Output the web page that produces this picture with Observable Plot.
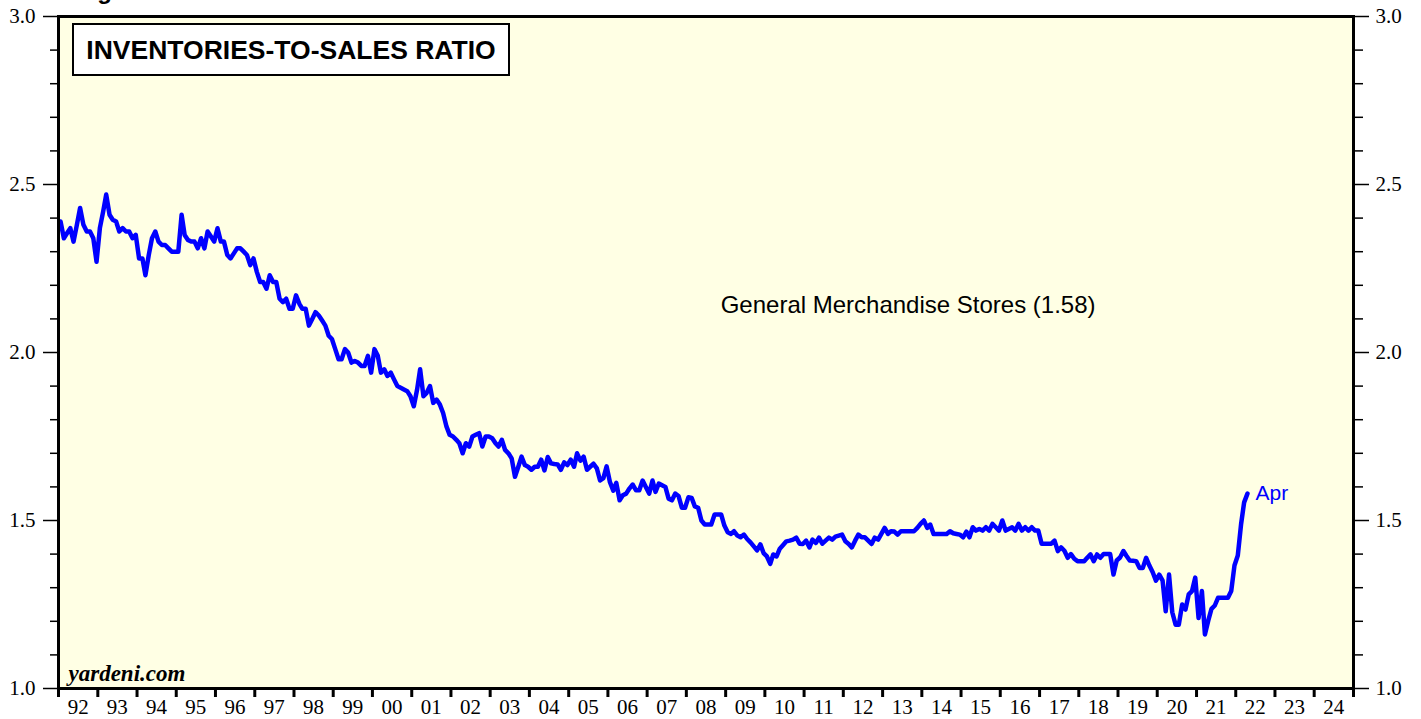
<!DOCTYPE html>
<html>
<head>
<meta charset="utf-8">
<script src="https://cdn.jsdelivr.net/npm/d3@7"></script>
<script src="https://cdn.jsdelivr.net/npm/@observablehq/plot@0.6"></script>
<style>
  html, body { margin: 0; padding: 0; background: #ffffff; }
  #wrap { position: relative; width: 1421px; height: 719px; overflow: hidden; }
  #fig { position: absolute; left: 76px; top: -21px; font: bold 24px "Liberation Sans", Arial, sans-serif; line-height: 24px; color: #000; white-space: nowrap; }
  #titlebox { position: absolute; left: 72px; top: 23px; width: 434px; height: 49px; border: 2px solid #000; background: #ffffff;
              font: bold 26.5px "Liberation Sans", Arial, sans-serif; line-height: 50px; text-align: center; color: #000; white-space: nowrap; }
  svg { display: block; }
</style>
</head>
<body>
<div id="wrap">
  <div id="chart"></div>
  <div id="fig">Figure 3.</div>
  <div id="titlebox">INVENTORIES-TO-SALES RATIO</div>
</div>
<script>
// Monthly inventories-to-sales ratio, General Merchandise Stores, Jan 1992 - Apr 2022
const y1992 = [2.39, 2.34, 2.355, 2.37, 2.33, 2.38, 2.43, 2.38, 2.36, 2.36, 2.34, 2.27];
const y1993 = [2.37, 2.42, 2.47, 2.41, 2.395, 2.39, 2.36, 2.37, 2.36, 2.36, 2.34, 2.35];
const y1994 = [2.28, 2.28, 2.23, 2.29, 2.34, 2.36, 2.33, 2.32, 2.32, 2.31, 2.30, 2.30];
const y1995 = [2.30, 2.41, 2.35, 2.335, 2.33, 2.33, 2.31, 2.34, 2.31, 2.36, 2.345, 2.33];
const y1996 = [2.37, 2.33, 2.33, 2.29, 2.28, 2.295, 2.31, 2.31, 2.30, 2.29, 2.26, 2.28];
const y1997 = [2.24, 2.21, 2.21, 2.19, 2.23, 2.21, 2.21, 2.16, 2.15, 2.16, 2.13, 2.13];
const y1998 = [2.17, 2.145, 2.13, 2.13, 2.08, 2.10, 2.12, 2.11, 2.095, 2.08, 2.05, 2.04];
const y1999 = [2.01, 1.98, 1.98, 2.01, 2.00, 1.97, 1.975, 1.97, 1.96, 1.96, 1.99, 1.94];
const y2000 = [2.01, 1.99, 1.94, 1.95, 1.93, 1.94, 1.92, 1.90, 1.895, 1.89, 1.885, 1.87];
const y2001 = [1.84, 1.89, 1.95, 1.87, 1.88, 1.90, 1.85, 1.86, 1.845, 1.82, 1.78, 1.755];
const y2002 = [1.75, 1.74, 1.73, 1.70, 1.73, 1.72, 1.75, 1.755, 1.76, 1.72, 1.75, 1.75];
const y2003 = [1.745, 1.73, 1.72, 1.74, 1.71, 1.70, 1.685, 1.63, 1.66, 1.69, 1.665, 1.66];
const y2004 = [1.651, 1.66, 1.66, 1.681, 1.649, 1.689, 1.67, 1.668, 1.667, 1.651, 1.673, 1.665];
const y2005 = [1.681, 1.66, 1.70, 1.678, 1.69, 1.651, 1.66, 1.669, 1.655, 1.619, 1.626, 1.661];
const y2006 = [1.614, 1.589, 1.612, 1.56, 1.575, 1.58, 1.595, 1.607, 1.59, 1.59, 1.619, 1.60];
const y2007 = [1.58, 1.619, 1.585, 1.61, 1.605, 1.60, 1.565, 1.56, 1.58, 1.573, 1.538, 1.538];
const y2008 = [1.569, 1.567, 1.542, 1.538, 1.50, 1.488, 1.488, 1.488, 1.518, 1.518, 1.518, 1.485];
const y2009 = [1.465, 1.46, 1.468, 1.455, 1.45, 1.458, 1.445, 1.435, 1.423, 1.411, 1.429, 1.403];
const y2010 = [1.393, 1.371, 1.399, 1.393, 1.416, 1.427, 1.438, 1.44, 1.443, 1.449, 1.431, 1.43];
const y2011 = [1.44, 1.42, 1.443, 1.433, 1.449, 1.431, 1.44, 1.449, 1.443, 1.452, 1.455, 1.458];
const y2012 = [1.438, 1.43, 1.42, 1.44, 1.458, 1.45, 1.45, 1.44, 1.43, 1.449, 1.443, 1.46];
const y2013 = [1.478, 1.46, 1.468, 1.467, 1.458, 1.468, 1.468, 1.468, 1.468, 1.468, 1.478, 1.49];
const y2014 = [1.50, 1.478, 1.488, 1.46, 1.46, 1.46, 1.46, 1.46, 1.468, 1.462, 1.46, 1.458];
const y2015 = [1.45, 1.467, 1.45, 1.48, 1.47, 1.475, 1.47, 1.48, 1.47, 1.49, 1.48, 1.47];
const y2016 = [1.50, 1.47, 1.475, 1.48, 1.47, 1.49, 1.47, 1.48, 1.47, 1.48, 1.47, 1.47];
const y2017 = [1.431, 1.431, 1.431, 1.431, 1.44, 1.409, 1.42, 1.41, 1.389, 1.40, 1.386, 1.379];
const y2018 = [1.379, 1.379, 1.389, 1.399, 1.379, 1.399, 1.389, 1.40, 1.40, 1.40, 1.339, 1.381];
const y2019 = [1.39, 1.409, 1.395, 1.381, 1.38, 1.379, 1.359, 1.359, 1.389, 1.366, 1.346, 1.321];
const y2020 = [1.339, 1.321, 1.23, 1.339, 1.227, 1.19, 1.19, 1.25, 1.235, 1.28, 1.29, 1.33];
const y2021 = [1.21, 1.29, 1.161, 1.202, 1.237, 1.247, 1.27, 1.27, 1.27, 1.27, 1.29, 1.366];
const y2022 = [1.396, 1.49, 1.554, 1.58];

const startYear = 1992;
const xTickLabels = ["92","93","94","95","96","97","98","99","00","01","02","03","04","05","06","07",
                     "08","09","10","11","12","13","14","15","16","17","18","19","20","21","22","23","24"];
const yMajorTicks = [1.0, 1.5, 2.0, 2.5, 3.0];
const yMinorTicks = [1.1, 1.2, 1.3, 1.4, 1.6, 1.7, 1.8, 1.9, 2.1, 2.2, 2.3, 2.4, 2.6, 2.7, 2.8, 2.9];
const seriesLabel = ["General Merchandise Stores (1.58)"];
const seriesLabelPos = [{year: 2013.65, value: 2.14}];
const lastLabel = "Apr";
const sourceLabel = "yardeni.com";

const years = [y1992, y1993, y1994, y1995, y1996, y1997, y1998, y1999, y2000, y2001, y2002, y2003, y2004,
               y2005, y2006, y2007, y2008, y2009, y2010, y2011, y2012, y2013, y2014, y2015, y2016, y2017,
               y2018, y2019, y2020, y2021, y2022];
const data = [];
years.forEach((arr, yi) => arr.forEach((v, m) => data.push({date: new Date(Date.UTC(startYear + yi, m, 20)), value: v})));
const last = data[data.length - 1];

const yearStarts = d3.range(startYear, startYear + xTickLabels.length + 1).map(y => new Date(Date.UTC(y, 0, 1)));
const midYears = d3.range(startYear, startYear + xTickLabels.length).map(y => new Date(Date.UTC(y, 6, 2)));
const fracDate = (f) => { const y = Math.floor(f); const s = Date.UTC(y, 0, 1), e = Date.UTC(y + 1, 0, 1); return new Date(s + (f - y) * (e - s)); };

const serif = "'Liberation Serif', 'Times New Roman', serif";
const sans = "'Liberation Sans', Arial, sans-serif";

const chart = Plot.plot({
  width: 1421,
  height: 719,
  marginTop: 16,
  marginBottom: 31,
  marginLeft: 58,
  marginRight: 68,
  style: {background: "transparent", fontFamily: serif, fontSize: "21px", color: "#000"},
  x: {type: "utc", domain: [yearStarts[0], yearStarts[yearStarts.length - 1]]},
  y: {domain: [1, 3]},
  marks: [
    Plot.frame({fill: "#ffffe4", stroke: null}),
    Plot.line(data, {x: "date", y: "value", stroke: "#0000ff", strokeWidth: 4.5, strokeLinejoin: "round", strokeLinecap: "round"}),
    Plot.text([last], {x: "date", y: "value", text: () => lastLabel, dx: 8, textAnchor: "start", lineAnchor: "middle", fill: "#0000ff", fontFamily: sans, fontSize: 21}),
    Plot.text(seriesLabelPos, {x: d => fracDate(d.year), y: "value", text: (d, i) => seriesLabel[i], textAnchor: "middle", lineAnchor: "middle", fill: "#000", fontFamily: sans, fontSize: 24}),
    Plot.text([sourceLabel], {frameAnchor: "bottom-left", text: d => d, dx: 10, dy: -15, textAnchor: "start", lineAnchor: "middle", fontFamily: serif, fontWeight: "bold", fontStyle: "italic", fontSize: 23, fill: "#000"}),
    Plot.frame({stroke: "#000", strokeWidth: 3}),
    Plot.axisY({anchor: "left", ticks: yMajorTicks, tickSize: 15, tickPadding: 8, tickFormat: d3.format(".1f"), label: null, strokeWidth: 1.5, fontSize: 21}),
    Plot.axisY({anchor: "left", ticks: yMinorTicks, tickSize: 8, tickFormat: () => "", label: null, strokeWidth: 1.5}),
    Plot.axisY({anchor: "right", ticks: yMajorTicks, tickSize: 15, tickPadding: 7, tickFormat: d3.format(".1f"), label: null, strokeWidth: 1.5, fontSize: 21}),
    Plot.axisY({anchor: "right", ticks: yMinorTicks, tickSize: 9, tickFormat: () => "", label: null, strokeWidth: 1.5}),
    Plot.axisX({anchor: "bottom", ticks: yearStarts, tickSize: 9, tickFormat: () => "", label: null, strokeWidth: 3}),
    Plot.axisX({anchor: "bottom", ticks: midYears, tickSize: 0, tickPadding: 11, tickFormat: d => xTickLabels[d.getUTCFullYear() - startYear], label: null, fontSize: 21})
  ]
});
document.getElementById("chart").appendChild(chart);
</script>
</body>
</html>
